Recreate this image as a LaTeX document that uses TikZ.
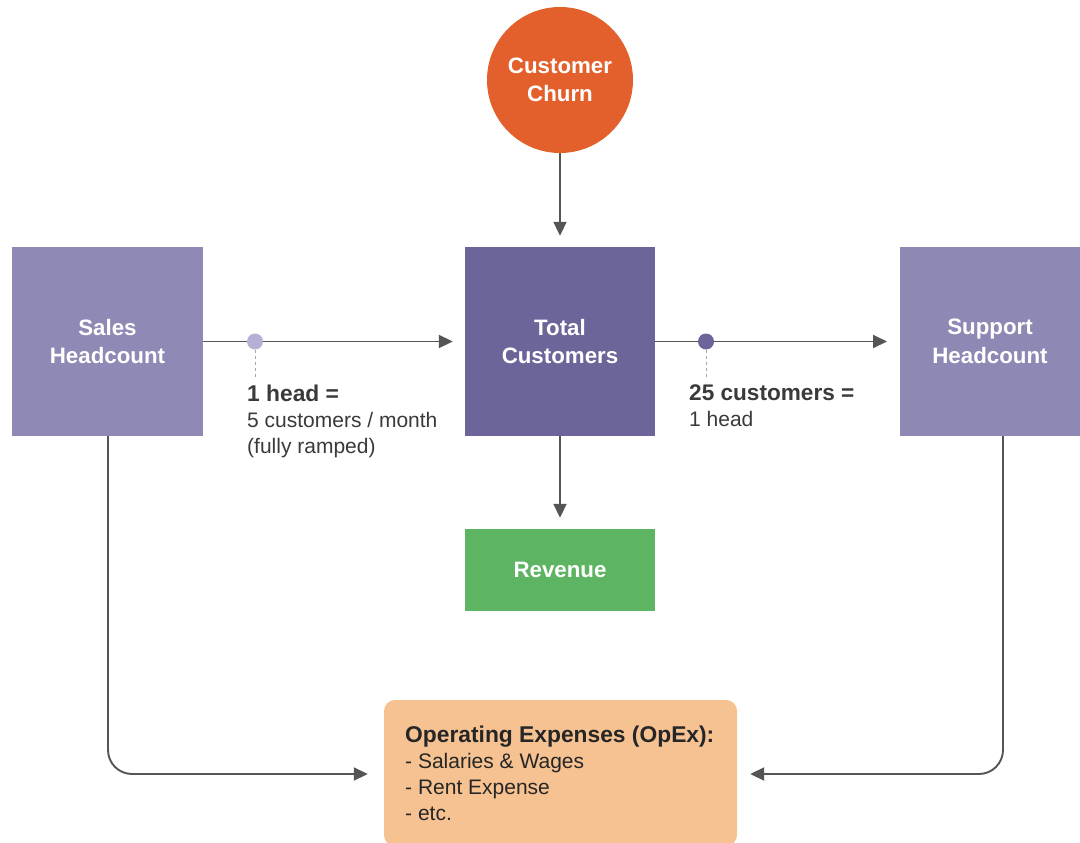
\documentclass[tikz,border=0pt]{standalone}
\usepackage{fontspec}
\setmainfont{Liberation Sans}
\usetikzlibrary{arrows.meta}
\definecolor{salesc}{HTML}{8F89B5}
\definecolor{totalc}{HTML}{6C6599}
\definecolor{supportc}{HTML}{8E89B4}
\definecolor{revc}{HTML}{5DB462}
\definecolor{churnc}{HTML}{E3602C}
\definecolor{opexc}{HTML}{F6C291}
\definecolor{linec}{HTML}{555555}
\definecolor{txtc}{HTML}{3A3A3A}
\definecolor{dotlight}{HTML}{B5B0D4}
\definecolor{dotdark}{HTML}{6C6599}
\tikzset{
  box/.style={draw=none, text=white, font=\fontsize{22.3}{28.5}\selectfont\bfseries, align=center, inner sep=0pt},
  conn/.style={draw=linec, line width=1.9pt, -{Triangle[length=14pt,width=13pt]}},
  lbl/.style={text=txtc, font=\fontsize{21}{26}\selectfont, align=left, inner sep=0pt, anchor=north west},
  dotst/.style={circle, inner sep=0pt, minimum size=16pt},
  dsh/.style={draw=gray!70, line width=0.8pt, dash pattern=on 3pt off 3pt}
}
\begin{document}
\begin{tikzpicture}[x=1pt,y=-1pt]
\useasboundingbox (0,0) rectangle (1080,843);
\fill[white] (0,0) rectangle (1080,843);

\node[box, circle, fill=churnc, minimum size=146pt] (churn) at (560,80) {Customer\\Churn};
\node[box, fill=salesc, minimum width=191pt, minimum height=189pt] (sales) at (107.5,341.5) {Sales\\Headcount};
\node[box, fill=totalc, minimum width=190pt, minimum height=189pt] (total) at (560,341.5) {Total\\Customers};
\node[box, fill=supportc, minimum width=180pt, minimum height=189pt] (support) at (990,341.5) {Support\\Headcount};
\node[box, fill=revc, minimum width=190pt, minimum height=82pt] (rev) at (560,570) {Revenue};
\node[fill=opexc, rounded corners=11pt, minimum width=353pt, minimum height=146pt, inner sep=0pt] (opex) at (560.5,773) {};
\node[lbl, text=black!85] (opextxt) at (405,726) {{\fontsize{22.8}{26}\selectfont\bfseries Operating Expenses (OpEx):}\\- Salaries \& Wages\\- Rent Expense\\- etc.};

% connectors
\draw[conn, shorten >=11pt] (churn.south) -- (total.north);
\draw[conn, shorten >=11pt] (total.south) -- (rev.north);
\draw[conn, shorten >=12pt] (sales.east) -- (total.west);
\draw[conn, shorten >=13pt] (total.east) -- (support.east -| 900,341.5);

\coordinate (sbend) at (108,774);
\coordinate (rbend) at (1003,774);
\draw[conn, rounded corners=24pt, shorten >=16pt] ([xshift=0.5pt]sales.south) |- (opex.west |- sbend);
\draw[conn, rounded corners=24pt, shorten >=13pt] ([xshift=13pt]support.south) |- (opex.east |- rbend);

% dots and labels
\node[dotst, fill=dotlight] (d1) at (255,341.5) {};
\node[dotst, fill=dotdark] (d2) at (706,341.5) {};
\coordinate (d1e) at (255,378);
\coordinate (d2e) at (706,378);
\draw[dsh] (d1.south) -- (d1e);
\draw[dsh] (d2.south) -- (d2e);

\node[lbl] (l1) at (247,385) {{\fontsize{22.8}{26}\selectfont\bfseries 1 head =}\\5 customers / month\\(fully ramped)};
\node[lbl] (l2) at (689,385) {{\fontsize{22.6}{26}\selectfont\bfseries 25 customers =}\\1 head};
\end{tikzpicture}
\end{document}
